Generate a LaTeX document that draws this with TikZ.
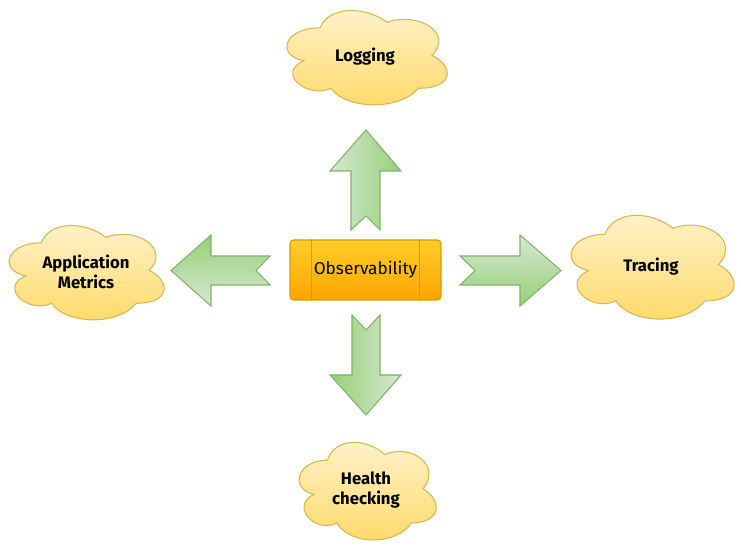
\documentclass[tikz,border=0pt]{standalone}
\usepackage{fontspec}
\setsansfont{Fira Sans}
\usepackage{tikz}
\usetikzlibrary{calc}

\definecolor{cloudtop}{HTML}{FFF2CC}
\definecolor{cloudbot}{HTML}{FFD966}
\definecolor{cloudline}{HTML}{D6B656}
\definecolor{boxtop}{HTML}{FFCD28}
\definecolor{boxbot}{HTML}{FFA500}
\definecolor{boxline}{HTML}{D79B00}
\definecolor{greenlight}{HTML}{D5E8D4}
\definecolor{greendark}{HTML}{97D077}
\definecolor{greenline}{HTML}{82B366}

\tikzset{
  cloudfill/.style={draw=cloudline, line width=0.6pt, top color=cloudtop, bottom color=cloudbot},
  cloudtext/.style={align=center, font=\sffamily\bfseries\fontsize{9.5}{11.5}\selectfont},
  obsbox/.style={draw=boxline, line width=0.6pt, rounded corners=2pt, top color=boxtop, bottom color=boxbot,
    minimum width=3.02cm, minimum height=1.2cm, font=\sffamily\fontsize{9.8}{12}\selectfont},
  bigarrow/.style={draw=greenline, line width=0.6pt},
  cloudshape/.pic={
    \shade[cloudfill] (-0.25,-0.25) .. controls (-0.45,-0.25) and (-0.5,0) .. (-0.34,0.05)
      .. controls (-0.5,0.16) and (-0.32,0.4) .. (-0.19,0.3)
      .. controls (-0.1,0.5) and (0.2,0.5) .. (0.3,0.3)
      .. controls (0.5,0.3) and (0.5,0.1) .. (0.375,0)
      .. controls (0.5,-0.2) and (0.3,-0.4) .. (0.125,-0.3)
      .. controls (0,-0.45) and (-0.2,-0.45) .. (-0.25,-0.25) -- cycle;
  }
}

\begin{document}
\begin{tikzpicture}[x=0.02cm, y=-0.02cm]
  \useasboundingbox (0,0) rectangle (741,546);

  % the clouds
  \pic[xscale=179, yscale=110] at (364.8,55.3) {cloudshape};
  \pic[xscale=173, yscale=110] at (84.4,270.3) {cloudshape};
  \pic[xscale=182, yscale=121] at (650.3,264.6) {cloudshape};
  \pic[xscale=153, yscale=114] at (365.7,488.7) {cloudshape};

  \node[cloudtext] (log) at (365,57) {Logging};
  \node[cloudtext] (metrics) at (86,272) {Application\\Metrics};
  \node[cloudtext] (trace) at (651,267) {Tracing};
  \node[cloudtext] (health) at (366,490) {Health\\checking};

  % centre box
  \node[obsbox] (obs) at (365.5,270) {Observability};
  \draw[boxline, line width=0.6pt] ($(obs.north west)+(22,0)$) -- ($(obs.south west)+(22,0)$);
  \draw[boxline, line width=0.6pt] ($(obs.north east)+(-22,0)$) -- ($(obs.south east)+(-22,0)$);

  % arrows
  \shade[bigarrow, left color=greenlight, right color=greendark]
    (366,130) -- (401,171) -- (380,171) -- (380,230) -- (366,216) -- (351,230) -- (351,171) -- (330,171) -- cycle;
  \shade[bigarrow, left color=greendark, right color=greenlight]
    (352,315) -- (366,330) -- (380,315) -- (380,375) -- (401,375) -- (366,415) -- (330,375) -- (352,375) -- cycle;
  \shade[bigarrow, top color=greendark, bottom color=greenlight]
    (171,270.5) -- (211,235) -- (211,256) -- (270,256) -- (256,270.5) -- (270,285) -- (211,285) -- (211,306) -- cycle;
  \shade[bigarrow, top color=greenlight, bottom color=greendark]
    (460,256) -- (520,256) -- (520,235) -- (561,270.5) -- (520,306) -- (520,285) -- (460,285) -- (475,270.5) -- cycle;
\end{tikzpicture}
\end{document}
